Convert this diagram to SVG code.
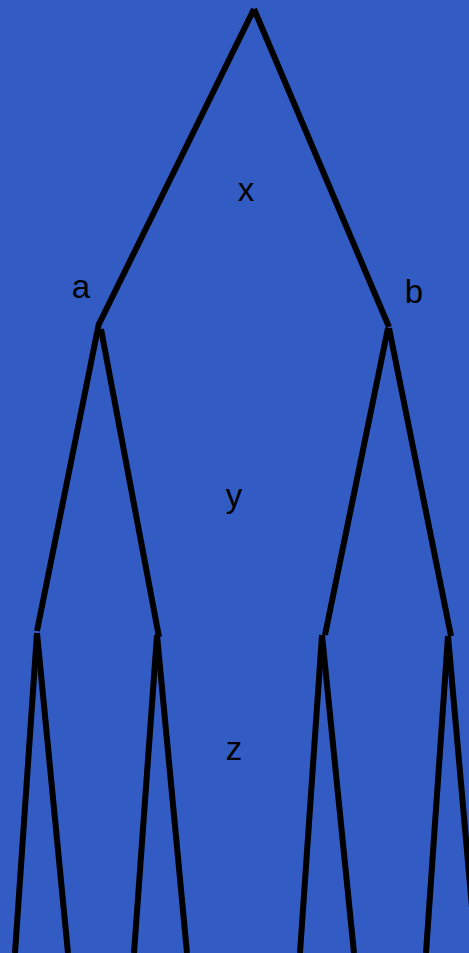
<svg xmlns="http://www.w3.org/2000/svg" width="469" height="953" viewBox="0 0 469 953">
<style>
.e{stroke:#000;stroke-width:6;fill:none;stroke-linecap:butt}
.t{font-family:"Liberation Sans",Arial,sans-serif;font-size:33px;fill:#000;text-anchor:middle}
</style>
<rect x="0" y="0" width="469" height="953" fill="#325cc4"/>
<g id="connectors">
<line class="e" x1="254" y1="9" x2="99" y2="324"/>
<line class="e" x1="254" y1="9" x2="389" y2="327"/>
<line class="e" x1="99" y1="323" x2="37" y2="631"/>
<line class="e" x1="101" y1="329" x2="159" y2="637"/>
<line class="e" x1="388" y1="328" x2="325" y2="635"/>
<line class="e" x1="389" y1="328" x2="451" y2="636"/>
<line class="e" x1="37" y1="633" x2="15" y2="953"/>
<line class="e" x1="37" y1="633" x2="68" y2="953"/>
<line class="e" x1="157" y1="635" x2="134" y2="953"/>
<line class="e" x1="157" y1="635" x2="187" y2="953"/>
<line class="e" x1="322" y1="635" x2="300" y2="953"/>
<line class="e" x1="322" y1="635" x2="354" y2="953"/>
<line class="e" x1="448" y1="636" x2="426" y2="953"/>
<line class="e" x1="448" y1="636" x2="476" y2="953"/>
</g>
<g id="label-x"><text class="t" x="246" y="201">x</text></g>
<g id="label-a"><text class="t" x="81" y="298">a</text></g>
<g id="label-b"><text class="t" x="414" y="303">b</text></g>
<g id="label-y"><text class="t" x="234" y="507">y</text></g>
<g id="label-z"><text class="t" x="234" y="760">z</text></g>
</svg>
